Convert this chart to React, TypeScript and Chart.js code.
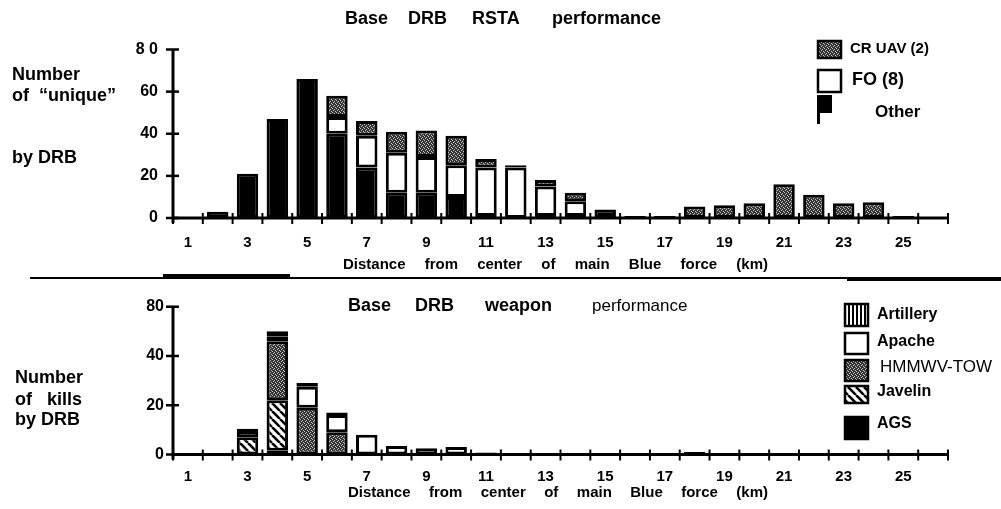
import React, { useEffect, useRef } from 'react';
import { Chart, registerables } from 'chart.js';

Chart.register(...registerables);

// ---------- data ----------
const distanceKm = ['1','2','3','4','5','6','7','8','9','10','11','12','13','14','15','16','17','18','19','20','21','22','23','24','25','26'];

// Top chart: Number of "unique" ... by DRB
const rstaOther = [0, 3, 21, 47, 66, 40, 24, 12, 12, 10, 1, 0, 1, 1, 4, 1, 1, 0, 0, 0, 0, 0, 0, 0, 1, 0];
const rstaFO    = [0, 0, 0, 0, 0, 8, 15, 19, 17, 15, 23, 24, 14, 7, 0, 0, 0, 0, 0, 0, 0, 0, 0, 0, 0, 0];
const rstaUAV   = [0, 0, 0, 0, 0, 10, 7, 10, 12.5, 14, 4, 1, 3, 4, 0, 0, 0, 5.5, 6, 7, 16, 11, 7, 7.5, 0, 0];
const rstaYTicks = [0, 20, 40, 60, 80];
const rstaYTickLabels = ['0', '20', '40', '60', '8 0'];

// Bottom chart: Number of kills by DRB
const killsAGS       = [0, 0.5, 0, 1.5, 0, 0, 0, 0, 0, 0, 0, 0, 0, 0.6, 0, 0, 0, 0, 0, 0, 0, 0, 0, 0, 0, 0];
const killsJavelin   = [0, 0, 7, 20.5, 0, 0, 0, 0, 0, 0, 0, 0, 0, 0, 0, 0, 0, 0, 0, 0, 0, 0, 0, 0, 0, 0];
const killsHMMWV     = [0, 0, 2.5, 24, 19, 9, 0, 0, 0, 0, 0, 0, 0, 0, 0, 0, 0, 0, 0, 0, 0, 0, 0, 0, 0, 0];
const killsApache    = [0, 0, 1, 2, 8.5, 7, 8, 3.5, 2.5, 3, 0.8, 0.6, 0.6, 0, 0, 0, 0, 1, 0, 0, 0, 0, 0, 0, 0, 0];
const killsArtillery = [0, 0, 0, 2, 1.5, 1, 0, 0, 0, 0, 0, 0, 0, 0, 0, 0, 0, 0, 0, 0, 0, 0, 0, 0, 0, 0];
const killsYTicks = [0, 20, 40, 60];
const killsYTickLabels = ['0', '20', '40', '80'];

// ---------- styling ----------
const FAMILY = '"Liberation Sans", Arial, Helvetica, sans-serif';
const TOP_H = 283;
const BOT_H = 226;

function makePattern(kind: string): CanvasPattern | string {
  const c = document.createElement('canvas');
  const g = c.getContext('2d');
  if (!g) return '#666';
  if (kind === 'stipple') {
    c.width = 4; c.height = 4;
    g.fillStyle = '#333'; g.fillRect(0, 0, 4, 4);
    g.fillStyle = '#c8c8c8';
    [[0, 0], [2, 1], [1, 2], [3, 3]].forEach(([x, y]) => g.fillRect(x, y, 1, 1));
  } else if (kind === 'diag') {
    c.width = 8; c.height = 8;
    g.fillStyle = '#fff'; g.fillRect(0, 0, 8, 8);
    g.strokeStyle = '#000'; g.lineWidth = 2.6;
    for (const o of [-8, 0, 8]) {
      g.beginPath(); g.moveTo(o, 0); g.lineTo(o + 8, 8); g.stroke();
    }
  } else if (kind === 'vert') {
    c.width = 4; c.height = 4;
    g.fillStyle = '#fff'; g.fillRect(0, 0, 4, 4);
    g.fillStyle = '#000'; g.fillRect(0, 0, 2, 4);
  }
  return g.createPattern(c, 'repeat') || '#666';
}

function font(size: number, bold = true) {
  return `${bold ? 'bold ' : ''}${size}px ${FAMILY}`;
}

function text(ctx: CanvasRenderingContext2D, s: string, x: number, y: number, size: number, bold = true) {
  ctx.font = font(size, bold);
  ctx.fillStyle = '#000';
  ctx.textAlign = 'left';
  ctx.textBaseline = 'middle';
  ctx.fillText(s, x, y);
}

function spread(ctx: CanvasRenderingContext2D, words: string[], x0: number, x1: number, y: number, size: number, bold = true) {
  ctx.font = font(size, bold);
  const widths = words.map((w) => ctx.measureText(w).width);
  const total = widths.reduce((a, b) => a + b, 0);
  const gap = (x1 - x0 - total) / (words.length - 1);
  let x = x0;
  words.forEach((w, i) => {
    text(ctx, w, x, y, size, bold);
    x += widths[i] + gap;
  });
}

function swatch(ctx: CanvasRenderingContext2D, x: number, y: number, w: number, h: number, fill: any) {
  ctx.fillStyle = fill;
  ctx.fillRect(x, y, w, h);
  ctx.strokeStyle = '#000';
  ctx.lineWidth = 2.5;
  ctx.strokeRect(x, y, w, h);
}

function drawAxes(chart: any, yTicks: number[]) {
  const { ctx, scales } = chart;
  const xs = scales.x;
  const ys = scales.y;
  const y0 = ys.getPixelForValue(0);
  const yTop = ys.getPixelForValue(ys.max);
  ctx.save();
  ctx.strokeStyle = '#000';
  ctx.lineWidth = 3;
  ctx.beginPath(); ctx.moveTo(xs.left, y0); ctx.lineTo(xs.right, y0); ctx.stroke();
  ctx.beginPath(); ctx.moveTo(xs.left, yTop); ctx.lineTo(xs.left, y0 + 5); ctx.stroke();
  const n = xs.getLabels().length;
  const w = (xs.right - xs.left) / n;
  ctx.lineWidth = 2;
  for (let i = 0; i <= n; i++) {
    const px = xs.left + i * w;
    ctx.beginPath(); ctx.moveTo(px, y0 - 5); ctx.lineTo(px, y0 + 6); ctx.stroke();
  }
  ctx.lineWidth = 2.5;
  for (const v of yTicks) {
    const py = ys.getPixelForValue(v);
    ctx.beginPath(); ctx.moveTo(xs.left - 7, py); ctx.lineTo(xs.left + 6, py); ctx.stroke();
  }
  ctx.restore();
}

function baseOptions(yMax: number, yTicks: number[], yLabels: string[], padding: any, yPad: number, xPad: number) {
  return {
    responsive: false,
    animation: false,
    layout: { padding },
    plugins: { legend: { display: false }, title: { display: false }, tooltip: { enabled: false } },
    datasets: { bar: { barPercentage: 0.72, categoryPercentage: 1 } },
    scales: {
      x: {
        stacked: true,
        grid: { display: false, drawTicks: false },
        border: { display: false },
        ticks: {
          autoSkip: false,
          maxRotation: 0,
          padding: xPad,
          color: '#000',
          font: { family: FAMILY, weight: 'bold', size: 15 },
          callback: (_v: any, i: number) => (i % 2 === 0 ? distanceKm[i] : ''),
        },
        afterFit: (s: any) => { s.height = 30; },
      },
      y: {
        stacked: true,
        min: 0,
        max: yMax,
        grid: { display: false, drawTicks: false },
        border: { display: false },
        afterBuildTicks: (s: any) => { s.ticks = yTicks.map((v) => ({ value: v })); },
        ticks: {
          padding: yPad,
          color: '#000',
          font: { family: FAMILY, weight: 'bold', size: 16 },
          callback: (v: any) => yLabels[yTicks.indexOf(Number(v))] ?? '',
        },
        afterFit: (s: any) => { s.width = 173; },
      },
    },
  };
}

export default function App() {
  const topRef = useRef<HTMLCanvasElement>(null);
  const botRef = useRef<HTMLCanvasElement>(null);

  useEffect(() => {
    const stipple = makePattern('stipple');
    const diag = makePattern('diag');
    const vert = makePattern('vert');
    const bar = { borderColor: '#000', borderWidth: 3, borderSkipped: false };

    const topDecor = {
      id: 'topDecor',
      afterDraw(chart: any) {
        const ctx = chart.ctx as CanvasRenderingContext2D;
        drawAxes(chart, rstaYTicks);
        ctx.save();
        // title
        text(ctx, 'Base', 345, 19, 18);
        text(ctx, 'DRB', 408, 19, 18);
        text(ctx, 'RSTA', 472, 19, 18);
        text(ctx, 'performance', 552, 19, 18);
        // y-axis title
        text(ctx, 'Number', 12, 75, 18);
        text(ctx, 'of  \u201Cunique\u201D', 12, 96, 18);
        text(ctx, 'by DRB', 12, 158, 18);
        // x-axis title
        spread(ctx, ['Distance', 'from', 'center', 'of', 'main', 'Blue', 'force', '(km)'], 343, 768, 265, 15);
        // legend
        swatch(ctx, 818, 41, 23, 17, stipple);
        text(ctx, 'CR UAV (2)', 850, 49, 15);
        swatch(ctx, 818, 70, 23, 22, '#fff');
        text(ctx, 'FO (8)', 852, 80, 18);
        ctx.fillStyle = '#000';
        ctx.fillRect(819, 95, 13, 18);
        ctx.fillRect(817, 95, 3, 29);
        text(ctx, 'Other', 875, 112, 17);
        // divider
        ctx.fillStyle = '#000';
        ctx.fillRect(30, 277, 971, 2);
        ctx.fillRect(163, 274, 127, 4);
        ctx.fillRect(847, 278, 154, 3);
        ctx.restore();
      },
    };

    const botDecor = {
      id: 'botDecor',
      afterDraw(chart: any) {
        const ctx = chart.ctx as CanvasRenderingContext2D;
        drawAxes(chart, killsYTicks);
        const o = TOP_H;
        ctx.save();
        text(ctx, 'Base', 348, 306 - o, 18);
        text(ctx, 'DRB', 415, 306 - o, 18);
        text(ctx, 'weapon', 485, 306 - o, 18);
        text(ctx, 'performance', 592, 306 - o, 17, false);
        text(ctx, 'Number', 15, 378 - o, 18);
        text(ctx, 'of   kills', 15, 400 - o, 18);
        text(ctx, 'by DRB', 15, 420 - o, 18);
        spread(ctx, ['Distance', 'from', 'center', 'of', 'main', 'Blue', 'force', '(km)'], 348, 768, 493 - o, 15);
        swatch(ctx, 845, 304 - o, 23, 22, vert);
        text(ctx, 'Artillery', 877, 315 - o, 16);
        swatch(ctx, 845, 333 - o, 23, 21, '#fff');
        text(ctx, 'Apache', 877, 342 - o, 16);
        swatch(ctx, 845, 360 - o, 23, 21, stipple);
        text(ctx, 'HMMWV-TOW', 880, 367 - o, 17, false);
        swatch(ctx, 845, 386 - o, 23, 17, diag);
        text(ctx, 'Javelin', 877, 392 - o, 16);
        swatch(ctx, 845, 417 - o, 23, 22, '#000');
        text(ctx, 'AGS', 877, 424 - o, 16);
        ctx.restore();
      },
    };

    const top = new Chart(topRef.current as HTMLCanvasElement, {
      type: 'bar',
      data: {
        labels: distanceKm,
        datasets: [
          { label: 'Other', data: rstaOther, backgroundColor: '#000', ...bar },
          { label: 'FO (8)', data: rstaFO, backgroundColor: '#fff', ...bar },
          { label: 'CR UAV (2)', data: rstaUAV, backgroundColor: stipple, ...bar },
        ],
      },
      options: baseOptions(80, rstaYTicks, rstaYTickLabels, { left: 0, right: 53, top: 49.5, bottom: TOP_H - 218 - 30 }, 15, 16) as any,
      plugins: [topDecor],
    } as any);

    const bottom = new Chart(botRef.current as HTMLCanvasElement, {
      type: 'bar',
      data: {
        labels: distanceKm,
        datasets: [
          { label: 'AGS', data: killsAGS, backgroundColor: '#000', ...bar },
          { label: 'Javelin', data: killsJavelin, backgroundColor: diag, ...bar },
          { label: 'HMMWV-TOW', data: killsHMMWV, backgroundColor: stipple, ...bar },
          { label: 'Apache', data: killsApache, backgroundColor: '#fff', ...bar },
          { label: 'Artillery', data: killsArtillery, backgroundColor: vert, ...bar },
        ],
      },
      options: baseOptions(60, killsYTicks, killsYTickLabels, { left: 0, right: 53, top: 306.7 - TOP_H, bottom: BOT_H - (454.5 - TOP_H) - 30 }, 9, 13) as any,
      plugins: [botDecor],
    } as any);

    return () => {
      top.destroy();
      bottom.destroy();
    };
  }, []);

  return (
    <div style={{ position: 'absolute', left: 0, top: 0, width: 1001, height: 509, background: '#fff', overflow: 'hidden' }}>
      <canvas ref={topRef} width={1001} height={TOP_H} style={{ position: 'absolute', left: 0, top: 0 }} />
      <canvas ref={botRef} width={1001} height={BOT_H} style={{ position: 'absolute', left: 0, top: TOP_H }} />
    </div>
  );
}
